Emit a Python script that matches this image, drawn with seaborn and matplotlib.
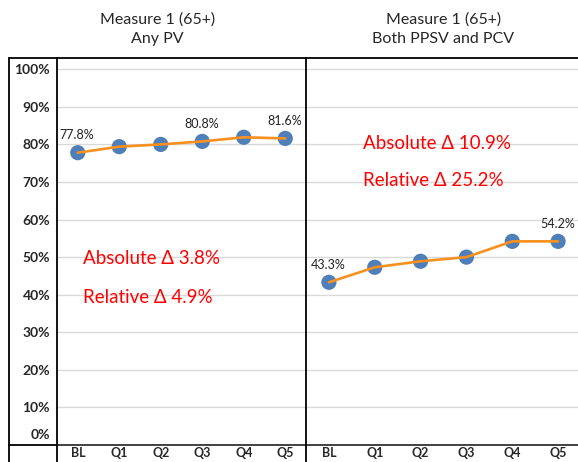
import matplotlib
matplotlib.use("Agg")
import matplotlib.pyplot as plt
from matplotlib.lines import Line2D
import seaborn as sns
import pandas as pd

quarters = ["BL", "Q1", "Q2", "Q3", "Q4", "Q5"]
any_pv = [77.8, 79.4, 80.0, 80.8, 81.9, 81.6]
both_pv = [43.3, 47.3, 48.9, 50.0, 54.2, 54.2]
titles = ["Measure 1 (65+)\nAny PV", "Measure 1 (65+)\nBoth PPSV and PCV"]
labelled = [[0, 3, 5], [0, 5]]
notes = [["Absolute \u0394 3.8%", "Relative \u0394 4.9%"],
         ["Absolute \u0394 10.9%", "Relative \u0394 25.2%"]]
yticks = [10, 20, 30, 40, 50, 60, 70, 80, 90, 100]

sns.set_theme(style="white")
plt.rcParams["font.family"] = ["Lato", "DejaVu Sans"]

W, H = 578, 462
fig = plt.figure(figsize=(W / 100, H / 100), dpi=100)

def fx(px):
    return px / W

def fy(py):
    return 1 - py / H

# axes in pixel coords: x 57..306 and 306..581, y 58..445
ax1 = fig.add_axes([fx(57), fy(445), fx(306 - 57), (445 - 58) / H])
ax2 = fig.add_axes([fx(306), fy(445), fx(581 - 306), (445 - 58) / H])

blue = "#4f7fb8"
orange = "#f7901e"
note_pos = [(0.12, 49.7, 39.3), (0.75, 80.3, 70.5)]

for i, (ax, vals) in enumerate([(ax1, any_pv), (ax2, both_pv)]):
    df = pd.DataFrame({"q": range(len(quarters)), "v": vals})
    sns.scatterplot(data=df, x="q", y="v", ax=ax, s=120, color=blue,
                    edgecolor="none", zorder=3, legend=False)
    sns.lineplot(data=df, x="q", y="v", ax=ax, color=orange, lw=1.9,
                 zorder=4, legend=False)
    for j in labelled[i]:
        ax.annotate(f"{vals[j]:.1f}%", (j, vals[j]), xytext=(-0.5, 12.5),
                    textcoords="offset points", ha="center", va="center",
                    fontsize=9, color="#222222")
    x0, y1, y2 = note_pos[i]
    ax.text(x0, y1, notes[i][0], color="red", fontsize=13.5, va="center")
    ax.text(x0, y2, notes[i][1], color="red", fontsize=13.5, va="center")

    ax.set_xlim(-0.5, len(quarters) - 0.5)
    ax.set_ylim(0, 103)
    ax.set_yticks(yticks)
    ax.grid(axis="y", color="#d9d9d9", lw=1)
    ax.set_axisbelow(True)
    ax.set_xticks(range(len(quarters)))
    ax.set_xticklabels(quarters, fontweight="bold", fontsize=9)
    ax.set_xticks([k - 0.5 for k in range(len(quarters) + 1)], minor=True)
    ax.tick_params(axis="x", which="major", length=0, pad=1.5)
    ax.tick_params(axis="x", which="minor", length=8, color="#d9d9d9",
                   direction="out")
    ax.set_xlabel("")
    ax.set_ylabel("")
    for s in ax.spines.values():
        s.set_color("black")
        s.set_linewidth(1.3)
    ax.spines["bottom"].set_color("#333333")
    fig.text(fx(157.5 if i == 0 else 443.5), fy(29), titles[i], ha="center",
             va="center", fontsize=11.5, linespacing=1.45)

ax1.set_yticklabels([f"{t}%" for t in yticks], fontweight="bold", fontsize=10)
ax1.tick_params(axis="y", length=0, pad=5)
ax1.annotate("0%", (0, 0), xycoords=("axes fraction", "data"),
             xytext=(-5, 7.5), textcoords="offset points", ha="right",
             va="center", fontweight="bold", fontsize=10)
ax2.tick_params(axis="y", length=0, labelleft=False)
ax2.spines["right"].set_visible(False)
ax1.spines["right"].set_visible(False)

# table-like frame lines around the y label column
for (xa, ya, xb, yb) in [(9, 58, 9, H), (9, 58, 57, 58), (9, 445, 57, 445),
                         (57, 445, 57, H), (306, 445, 306, H)]:
    fig.add_artist(Line2D([fx(xa), fx(xb)], [fy(ya), fy(yb)], color="black",
                          lw=1.3))

fig.savefig("out.png", dpi=100)
